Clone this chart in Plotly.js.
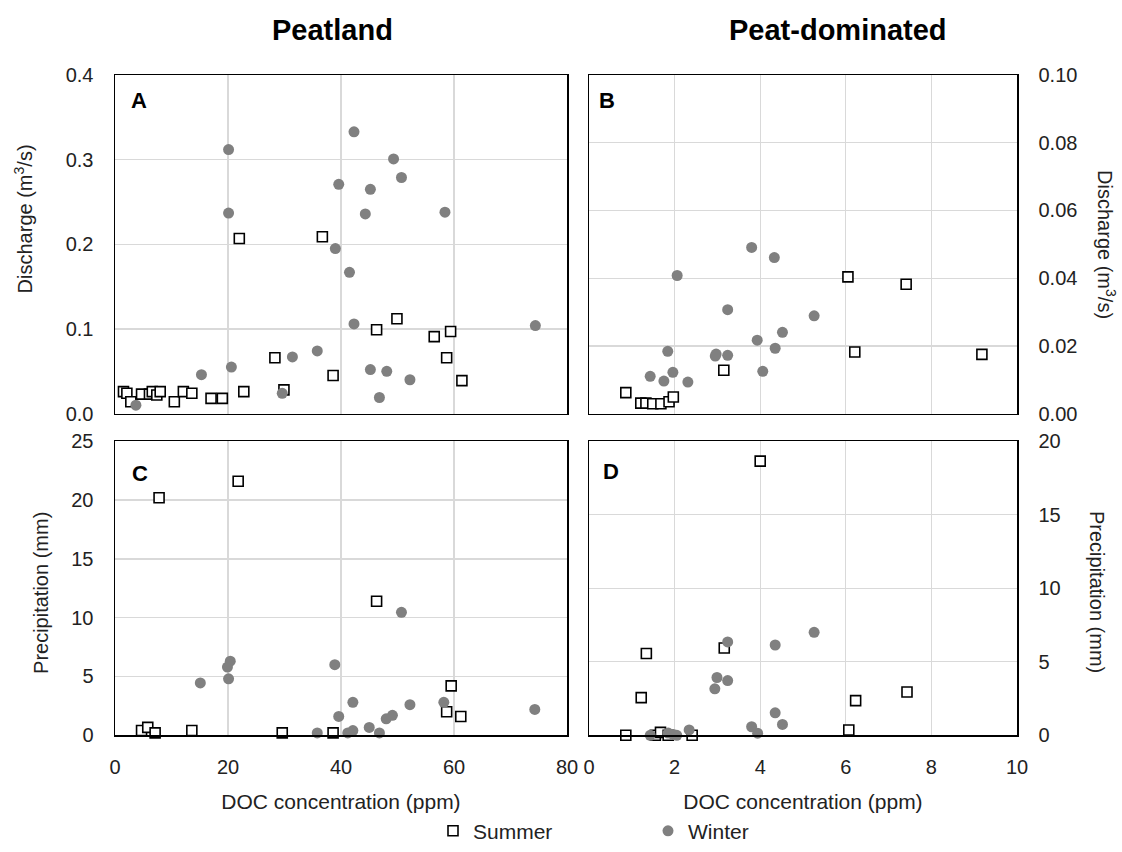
<!DOCTYPE html>
<html>
<head>
<meta charset="utf-8">
<script src="https://cdn.plot.ly/plotly-3.0.1.min.js"></script>
<style>html,body{margin:0;padding:0;background:#fff;}#chart{width:1122px;height:852px;}</style>
</head>
<body>
<div id="chart"></div>
<script>
// Panel A: Peatland discharge
var xA_summer = [1.5, 2.1, 2.8, 4.7, 6.1, 6.6, 7.4, 8.0, 10.5, 12.1, 13.6, 17.0, 19.0, 22.0, 22.8, 28.3, 29.9, 36.7, 38.6, 46.3, 49.9, 56.5, 58.7, 59.4, 61.4];
var yA_summer = [0.026, 0.024, 0.014, 0.023, 0.023, 0.026, 0.022, 0.026, 0.014, 0.026, 0.024, 0.018, 0.018, 0.207, 0.026, 0.066, 0.028, 0.209, 0.045, 0.099, 0.112, 0.091, 0.066, 0.097, 0.039];
var xA_winter = [3.7, 15.3, 20.1, 20.1, 20.6, 29.6, 31.4, 35.8, 39.0, 39.6, 41.5, 42.3, 42.3, 44.3, 45.2, 45.2, 46.8, 48.1, 49.3, 50.7, 52.2, 58.4, 74.4];
var yA_winter = [0.010, 0.046, 0.312, 0.237, 0.055, 0.024, 0.067, 0.074, 0.195, 0.271, 0.167, 0.333, 0.106, 0.236, 0.265, 0.052, 0.019, 0.050, 0.301, 0.279, 0.040, 0.238, 0.104];

// Panel B: Peat-dominated discharge
var xB_summer = [0.86, 1.21, 1.33, 1.49, 1.68, 1.87, 1.97, 3.15, 6.05, 6.21, 7.41, 9.18];
var yB_summer = [0.0062, 0.0031, 0.0031, 0.0029, 0.0029, 0.0035, 0.0049, 0.0128, 0.0404, 0.0182, 0.0382, 0.0175];
var xB_winter = [1.43, 1.75, 1.84, 1.96, 2.06, 2.31, 2.95, 2.97, 3.24, 3.24, 3.80, 3.93, 4.06, 4.33, 4.35, 4.52, 5.26];
var yB_winter = [0.0110, 0.0096, 0.0184, 0.0122, 0.0408, 0.0093, 0.0170, 0.0176, 0.0172, 0.0307, 0.0491, 0.0217, 0.0125, 0.0461, 0.0193, 0.0240, 0.0289];

// Panel C: Peatland precipitation
var xC_summer = [4.7, 5.8, 7.1, 7.8, 13.6, 21.8, 29.6, 38.6, 46.3, 58.7, 59.5, 61.2];
var yC_summer = [0.4, 0.67, 0.2, 20.2, 0.4, 21.6, 0.2, 0.2, 11.4, 2.0, 4.2, 1.6];
var xC_winter = [15.1, 19.9, 20.1, 20.4, 35.8, 38.9, 39.6, 41.2, 42.1, 42.1, 45.0, 46.8, 48.0, 49.1, 50.7, 52.2, 58.2, 74.3];
var yC_winter = [4.45, 5.8, 4.8, 6.3, 0.2, 6.0, 1.6, 0.2, 0.4, 2.8, 0.67, 0.2, 1.4, 1.7, 10.45, 2.6, 2.8, 2.2];

// Panel D: Peat-dominated precipitation
var xD_summer = [0.86, 1.22, 1.34, 1.55, 1.67, 1.85, 2.41, 3.16, 4.00, 6.07, 6.23, 7.43];
var yD_summer = [0.0, 2.56, 5.56, 0.0, 0.2, 0.0, 0.0, 5.94, 18.65, 0.36, 2.36, 2.94];
var xD_winter = [1.43, 1.85, 1.97, 2.05, 2.34, 2.94, 2.99, 3.24, 3.24, 3.80, 3.94, 4.35, 4.35, 4.52, 5.26];
var yD_winter = [0.0, 0.15, 0.05, 0.0, 0.36, 3.16, 3.93, 3.72, 6.35, 0.58, 0.14, 6.14, 1.53, 0.74, 7.0];

var seriesNames = ['Summer', 'Winter'];
var columnTitles = ['Peatland', 'Peat-dominated'];
var panelLetters = ['A', 'B', 'C', 'D'];
var xTitle = 'DOC concentration (ppm)';
var dischargeTitle = 'Discharge (m<sup>3</sup>/s)';
var precipTitle = 'Precipitation (mm)';

var FONT = 'Liberation Sans, Arial, sans-serif';
var summerMarker = {symbol: 'square', size: 10, color: '#ffffff', line: {color: '#000000', width: 1.6}};
var winterMarker = {symbol: 'circle', size: 11, color: '#808080', line: {width: 0}};

function pair(xs, ys, xa, ya, show) {
  return [
    {x: xs[0], y: ys[0], xaxis: xa, yaxis: ya, type: 'scatter', mode: 'markers', name: seriesNames[0],
     marker: summerMarker, showlegend: show, legendgroup: 's', cliponaxis: false},
    {x: xs[1], y: ys[1], xaxis: xa, yaxis: ya, type: 'scatter', mode: 'markers', name: seriesNames[1],
     marker: winterMarker, showlegend: show, legendgroup: 'w', cliponaxis: false}
  ];
}

var traces = [].concat(
  pair([xA_summer, xA_winter], [yA_summer, yA_winter], 'x', 'y', true),
  pair([xB_summer, xB_winter], [yB_summer, yB_winter], 'x2', 'y2', false),
  pair([xC_summer, xC_winter], [yC_summer, yC_winter], 'x3', 'y3', false),
  pair([xD_summer, xD_winter], [yD_summer, yD_winter], 'x4', 'y4', false)
);

var W = 1122, H = 852;
function fx(p) { return p / W; }
function fy(p) { return 1 - p / H; }

var grid = '#d9d9d9';
function xax(dom, range, dtick, labels, anchor) {
  var a = {domain: dom, range: range, dtick: dtick, tick0: 0, showgrid: true, gridcolor: grid, gridwidth: 1.3,
    zeroline: false, showline: true, linecolor: '#000', linewidth: 1.5, mirror: true, ticks: '',
    showticklabels: labels, tickfont: {family: FONT, size: 20, color: '#222'}, anchor: anchor,
    ticklabelstandoff: 13, fixedrange: true};
  if (labels) a.title = {text: xTitle, font: {family: FONT, size: 21, color: '#222'}, standoff: 17};
  return a;
}
function yax(dom, range, dtick, fmt, side, anchor) {
  return {domain: dom, range: range, dtick: dtick, tick0: 0, tickformat: fmt, showgrid: true, gridcolor: grid, gridwidth: 1.3,
    zeroline: false, showline: true, linecolor: '#000', linewidth: 1.5, mirror: true, ticks: '', side: side,
    tickfont: {family: FONT, size: 20, color: '#222'}, anchor: anchor, ticklabelstandoff: 16, fixedrange: true};
}

var xL = [fx(115), fx(567)], xR = [fx(589), fx(1017)];
var yT = [fy(418.5), fy(76)], yB = [fy(744), fy(446.5)];

var annotations = [
  {text: '<b>' + columnTitles[0] + '</b>', x: fx(332), y: fy(30), xref: 'paper', yref: 'paper', showarrow: false,
   xanchor: 'center', yanchor: 'middle', font: {family: FONT, size: 29, color: '#000'}},
  {text: '<b>' + columnTitles[1] + '</b>', x: fx(838), y: fy(30), xref: 'paper', yref: 'paper', showarrow: false,
   xanchor: 'center', yanchor: 'middle', font: {family: FONT, size: 29, color: '#000'}}
];
var letterPos = [[139, 102], [607, 102], [140, 479], [611, 477]];
for (var i = 0; i < 4; i++) {
  annotations.push({text: '<b>' + panelLetters[i] + '</b>', x: fx(letterPos[i][0]), y: fy(letterPos[i][1]),
    xref: 'paper', yref: 'paper', showarrow: false, xanchor: 'center', yanchor: 'middle',
    font: {family: FONT, size: 22, color: '#000'}});
}
// y-axis titles (left ones read upward, right ones read downward)
var yTitles = [
  {text: dischargeTitle, x: 23, y: 222, angle: -90},
  {text: dischargeTitle, x: 1107, y: 247, angle: 90},
  {text: precipTitle, x: 41, y: 600, angle: -90},
  {text: precipTitle, x: 1097, y: 599, angle: 90}
];
yTitles.forEach(function (t) {
  annotations.push({text: t.text, x: fx(t.x), y: fy(t.y), xref: 'paper', yref: 'paper', showarrow: false,
    xanchor: 'center', yanchor: 'middle', textangle: t.angle, font: {family: FONT, size: 20, color: '#222'}});
});

var layout = {
  width: W, height: H,
  margin: {l: 0, r: 0, t: 0, b: 0, pad: 0},
  paper_bgcolor: '#ffffff', plot_bgcolor: '#ffffff',
  font: {family: FONT, color: '#222'},
  showlegend: true,
  legend: {orientation: 'h', x: fx(433), xanchor: 'left', y: fy(841), yanchor: 'middle',
    font: {family: FONT, size: 21, color: '#222'}, entrywidth: 170, entrywidthmode: 'pixels',
    bgcolor: 'rgba(0,0,0,0)', borderwidth: 0, itemclick: false, itemdoubleclick: false, traceorder: 'normal'},
  xaxis: xax(xL, [0, 80], 20, false, 'y'),
  yaxis: yax(yT, [0, 0.4], 0.1, '.1f', 'left', 'x'),
  xaxis2: xax(xR, [0, 10], 2, false, 'y2'),
  yaxis2: yax(yT, [0, 0.1], 0.02, '.2f', 'right', 'x2'),
  xaxis3: xax(xL, [0, 80], 20, true, 'y3'),
  yaxis3: yax(yB, [0, 25], 5, 'd', 'left', 'x3'),
  xaxis4: xax(xR, [0, 10], 2, true, 'y4'),
  yaxis4: yax(yB, [0, 20], 5, 'd', 'right', 'x4'),
  annotations: annotations
};

Plotly.newPlot('chart', traces, layout, {displayModeBar: false, staticPlot: true});
</script>
</body>
</html>
